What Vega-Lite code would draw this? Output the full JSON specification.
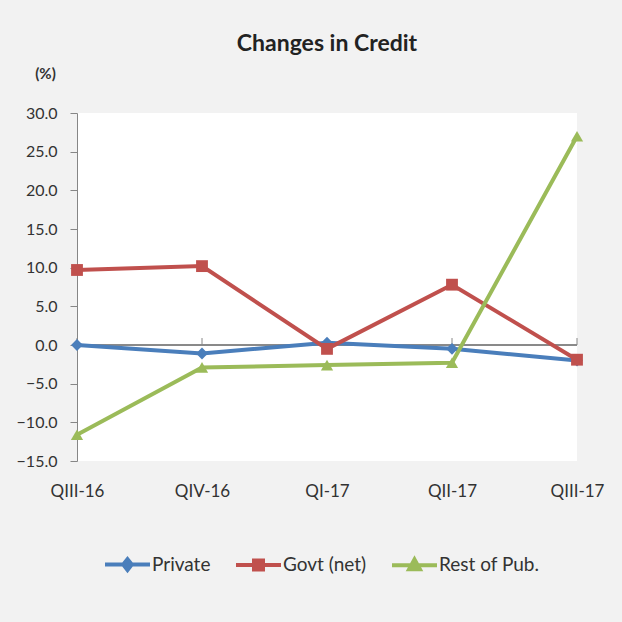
{
  "$schema": "https://vega.github.io/schema/vega-lite/v6.json",
  "autosize": {"type": "none"},
  "width": 500,
  "height": 348,
  "padding": {"left": 77, "top": 113, "right": 45, "bottom": 161},
  "background": "#f2f2f2",
  "config": {
    "font": "Lato",
    "view": {"fill": "white", "stroke": null},
    "axisY": {
      "tickCount": 9,
      "format": ".1f",
      "labelFontSize": 16,
      "labelColor": "#333333",
      "labelPadding": 13,
      "tickSize": 7,
      "tickColor": "#868686",
      "domainColor": "#868686",
      "grid": false,
      "labelOverlap": false
    }
  },
  "title": {
    "text": "Changes in Credit",
    "font": "Lato",
    "fontSize": 23,
    "fontWeight": "bold",
    "color": "#222222",
    "anchor": "middle",
    "offset": 10
  },
  "datasets": {
    "credit": [
      {"Quarter": "QIII-16", "Series": "Private", "Value": 0.0},
      {"Quarter": "QIV-16", "Series": "Private", "Value": -1.1},
      {"Quarter": "QI-17", "Series": "Private", "Value": 0.3},
      {"Quarter": "QII-17", "Series": "Private", "Value": -0.5},
      {"Quarter": "QIII-17", "Series": "Private", "Value": -2.0},
      {"Quarter": "QIII-16", "Series": "Govt (net)", "Value": 9.7},
      {"Quarter": "QIV-16", "Series": "Govt (net)", "Value": 10.2},
      {"Quarter": "QI-17", "Series": "Govt (net)", "Value": -0.5},
      {"Quarter": "QII-17", "Series": "Govt (net)", "Value": 7.8},
      {"Quarter": "QIII-17", "Series": "Govt (net)", "Value": -1.9},
      {"Quarter": "QIII-16", "Series": "Rest of Pub.", "Value": -11.6},
      {"Quarter": "QIV-16", "Series": "Rest of Pub.", "Value": -2.9},
      {"Quarter": "QI-17", "Series": "Rest of Pub.", "Value": -2.6},
      {"Quarter": "QII-17", "Series": "Rest of Pub.", "Value": -2.3},
      {"Quarter": "QIII-17", "Series": "Rest of Pub.", "Value": 27.0}
    ],
    "quarters": [
      {"Quarter": "QIII-16"},
      {"Quarter": "QIV-16"},
      {"Quarter": "QI-17"},
      {"Quarter": "QII-17"},
      {"Quarter": "QIII-17"}
    ]
  },
  "layer": [
    {
      "data": {"name": "quarters"},
      "mark": {"type": "rule", "color": "#868686", "strokeWidth": 1},
      "encoding": {
        "x": {
          "field": "Quarter",
          "type": "ordinal",
          "sort": ["QIII-16", "QIV-16", "QI-17", "QII-17", "QIII-17"],
          "scale": {"type": "point", "padding": 0},
          "axis": {
            "title": null,
            "domain": false,
            "ticks": false,
            "labelPadding": 22,
            "labelFontSize": 17,
            "labelColor": "#333333",
            "labelAngle": 0,
            "grid": false
          }
        },
        "y": {
          "datum": 0,
          "type": "quantitative",
          "scale": {"domain": [-15, 30], "nice": false, "zero": false},
          "axis": {
            "title": "(%)",
            "titleAngle": 0,
            "titleX": -32,
            "titleY": -40,
            "titleAlign": "center",
            "titleBaseline": "middle",
            "titleFontSize": 15,
            "titleFontWeight": "bold",
            "titleColor": "#333333"
          }
        },
        "y2": {"datum": 0.9}
      }
    },
    {
      "data": {"name": "quarters"},
      "mark": {"type": "rule", "color": "#868686", "strokeWidth": 1},
      "encoding": {
        "y": {"datum": 0, "type": "quantitative"}
      }
    },
    {
      "data": {"name": "credit"},
      "mark": {"type": "line", "strokeWidth": 4},
      "encoding": {
        "x": {"field": "Quarter", "type": "ordinal", "sort": ["QIII-16", "QIV-16", "QI-17", "QII-17", "QIII-17"]},
        "y": {"field": "Value", "type": "quantitative"},
        "color": {"field": "Series", "type": "nominal",
          "scale": {"domain": ["Private", "Govt (net)", "Rest of Pub."], "range": ["#4a7ebb", "#c0504d", "#9bbb59"]},
          "legend": {
            "title": null,
            "orient": "none",
            "direction": "horizontal",
            "legendX": 26,
            "legendY": 427,
            "labelFontSize": 19,
            "labelColor": "#333333",
            "symbolSize": 2025,
            "symbolStrokeWidth": 3,
            "columnPadding": 17,
            "labelOffset": 0,
            "encode": {
              "symbols": {
                "update": {
                  "shape": {"signal": "datum.value === 'Private' ? 'M-1,0H1M0,-0.24L0.19,0L0,0.24L-0.19,0Z' : datum.value === 'Govt (net)' ? 'M-1,0H1M-0.2,-0.2H0.2V0.2H-0.2Z' : 'M-1,0H1M0,-0.26L0.24,0.18H-0.24Z'"},
                  "stroke": {"signal": "scale('color', datum.value)"},
                  "fill": {"signal": "scale('color', datum.value)"},
                  "strokeWidth": {"value": 4},
                  "opacity": {"value": 1}
                }
              }
            }
          }}
      }
    },
    {
      "data": {"name": "credit"},
      "transform": [{"filter": "datum.Series === 'Private'"}],
      "mark": {"type": "point", "filled": true, "opacity": 1, "size": 140, "shape": "diamond", "color": "#4a7ebb"},
      "encoding": {
        "x": {"field": "Quarter", "type": "ordinal", "sort": ["QIII-16", "QIV-16", "QI-17", "QII-17", "QIII-17"]},
        "y": {"field": "Value", "type": "quantitative"}
      }
    },
    {
      "data": {"name": "credit"},
      "transform": [{"filter": "datum.Series === 'Govt (net)'"}],
      "mark": {"type": "point", "filled": true, "opacity": 1, "size": 140, "shape": "square", "color": "#c0504d"},
      "encoding": {
        "x": {"field": "Quarter", "type": "ordinal", "sort": ["QIII-16", "QIV-16", "QI-17", "QII-17", "QIII-17"]},
        "y": {"field": "Value", "type": "quantitative"}
      }
    },
    {
      "data": {"name": "credit"},
      "transform": [{"filter": "datum.Series === 'Rest of Pub.'"}],
      "mark": {"type": "point", "filled": true, "opacity": 1, "size": 150, "shape": "triangle-up", "color": "#9bbb59"},
      "encoding": {
        "x": {"field": "Quarter", "type": "ordinal", "sort": ["QIII-16", "QIV-16", "QI-17", "QII-17", "QIII-17"]},
        "y": {"field": "Value", "type": "quantitative"}
      }
    }
  ]
}
